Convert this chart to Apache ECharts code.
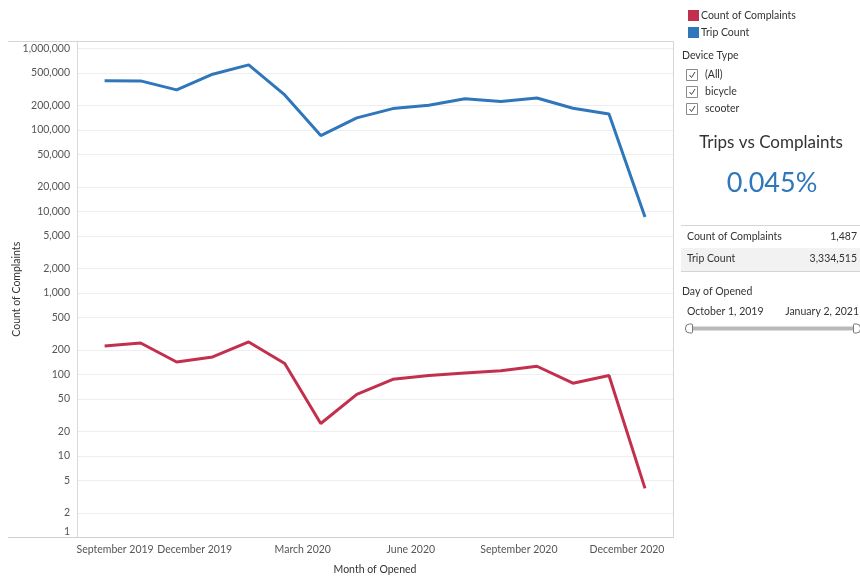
<!DOCTYPE html>
<html><head><meta charset="utf-8">
<script src="https://cdn.jsdelivr.net/npm/echarts@6/dist/echarts.min.js"></script>
<style>html,body{margin:0;padding:0;background:#fff}#c{width:860px;height:577px}</style>
</head><body><div id="c"></div>
<script>
// ---- data ----
const months = ['Oct 2019','Nov 2019','Dec 2019','Jan 2020','Feb 2020','Mar 2020','Apr 2020','May 2020','Jun 2020','Jul 2020','Aug 2020','Sep 2020','Oct 2020','Nov 2020','Dec 2020','Jan 2021'];
const complaints = [223,243,142,164,250,136,25,57,87,97,104,111,126,78,97,4];
const trips = [401000,398000,309000,481000,625000,268000,85000,140000,182000,200000,241000,222000,246000,184000,156000,8500];
const yTicks = [1,2,5,10,20,50,100,200,500,1000,2000,5000,10000,20000,50000,100000,200000,500000,1000000];
// x labels sit in the middle of their month (month index, 0 = Oct 2019)
const xTickValues = [-0.5,2.5,5.5,8.5,11.5,14.5];
const xTickLabels = ['September 2019','December 2019','March 2020','June 2020','September 2020','December 2020'];
const deviceTypes = ['(All)','bicycle','scooter'];
const summaryLabels = ['Count of Complaints','Trip Count'];
const summaryValues = [1487, 3334515];
const dateRange = ['October 1, 2019','January 2, 2021'];

const RED = '#c3304d', BLUE = '#2f76bb';
const FONT = 'Lato, "Open Sans", sans-serif';
const fmt = v => Number(v).toLocaleString('en-US');
const ratio = (summaryValues[0] / summaryValues[1] * 100).toFixed(3) + '%';

const chart = echarts.init(document.getElementById('c'), null, {renderer: 'canvas'});

const graphics = [];
// frame lines of the Tableau pane
graphics.push({type:'line', shape:{x1:8,y1:41.5,x2:673,y2:41.5}, style:{stroke:'#d6d6d6',lineWidth:1}, silent:true});
graphics.push({type:'line', shape:{x1:8,y1:537.5,x2:77,y2:537.5}, style:{stroke:'#cfcfcf',lineWidth:1}, silent:true});
graphics.push({type:'line', shape:{x1:673.5,y1:41,x2:673.5,y2:538}, style:{stroke:'#d6d6d6',lineWidth:1}, silent:true});
// Device Type filter
graphics.push({type:'text', x:682, y:56, style:{text:'Device Type', font:'10.5px '+FONT, fill:'#333', verticalAlign:'middle'}});
deviceTypes.forEach((d, i) => {
  const cy = 75 + i * 17;
  graphics.push({type:'rect', shape:{x:686.5, y:cy-5.5, width:11, height:11}, style:{fill:'#fff', stroke:'#8a8a8a', lineWidth:1}});
  graphics.push({type:'polyline', shape:{points:[[689.5,cy],[691.5,cy+2.5],[695,cy-3]]}, style:{stroke:'#444', lineWidth:1, fill:null}});
  graphics.push({type:'text', x:705, y:cy, style:{text:d, font:'10.5px '+FONT, fill:'#333', verticalAlign:'middle'}});
});
// KPI
graphics.push({type:'text', x:771, y:143, style:{text:'Trips vs Complaints', font:'17px '+FONT, fill:'#333', align:'center', verticalAlign:'middle'}});
graphics.push({type:'text', x:772, y:183, style:{text:ratio, font:'27px '+FONT, fill:BLUE, align:'center', verticalAlign:'middle'}});
// summary table
graphics.push({type:'rect', shape:{x:681, y:248, width:179, height:23}, style:{fill:'#f2f2f2'}});
graphics.push({type:'line', shape:{x1:681,y1:225.5,x2:860,y2:225.5}, style:{stroke:'#d4d4d4',lineWidth:1}});
graphics.push({type:'line', shape:{x1:681,y1:271.5,x2:860,y2:271.5}, style:{stroke:'#d4d4d4',lineWidth:1}});
summaryLabels.forEach((s, i) => {
  const cy = 236.5 + i * 22.5;
  graphics.push({type:'text', x:687, y:cy, style:{text:s, font:'10.5px '+FONT, fill:'#333', verticalAlign:'middle'}});
  graphics.push({type:'text', x:857, y:cy, style:{text:fmt(summaryValues[i]), font:'10.5px '+FONT, fill:'#333', align:'right', verticalAlign:'middle'}});
});
// date filter
graphics.push({type:'text', x:682, y:291.5, style:{text:'Day of Opened', font:'10.5px '+FONT, fill:'#333', verticalAlign:'middle'}});
graphics.push({type:'text', x:687, y:311.5, style:{text:dateRange[0], font:'10.5px '+FONT, fill:'#333', verticalAlign:'middle'}});
graphics.push({type:'text', x:859, y:311.5, style:{text:dateRange[1], font:'10.5px '+FONT, fill:'#333', align:'right', verticalAlign:'middle'}});
graphics.push({type:'rect', shape:{x:690, y:326.5, width:166, height:4}, style:{fill:'#b9b9b9'}});
graphics.push({type:'rect', shape:{x:685.5, y:324, width:7, height:9, r:[4,1,1,4]}, style:{fill:'#fff', stroke:'#777', lineWidth:1}});
graphics.push({type:'rect', shape:{x:853.5, y:324, width:7, height:9, r:[1,4,4,1]}, style:{fill:'#fff', stroke:'#777', lineWidth:1}});

chart.setOption({
  animation: false,
  backgroundColor: '#fff',
  textStyle: {fontFamily: FONT},
  legend: {
    orient: 'vertical', left: 683, top: 5, itemWidth: 11, itemHeight: 11, itemGap: 6,
    icon: 'rect', selectedMode: false,
    textStyle: {fontSize: 10.5, color: '#333', fontFamily: FONT, padding:[0,0,0,-3]},
    data: ['Count of Complaints', 'Trip Count']
  },
  grid: {left: 77, right: 187, top: 41, bottom: 39.5, containLabel: false, outerBoundsMode: 'none'},
  xAxis: {
    type: 'value', min: -0.766, max: 15.777,
    name: 'Month of Opened', nameLocation: 'middle', nameGap: 27, nameMoveOverlap: false,
    nameTextStyle: {fontSize: 10.5, color: '#333', fontFamily: FONT},
    axisLine: {show: true, onZero: false, lineStyle: {color: '#cfcfcf'}},
    axisTick: {show: false},
    splitLine: {show: false},
    axisLabel: {
      customValues: xTickValues, margin: 7, fontSize: 10.5, color: '#555', fontFamily: FONT,
      showMinLabel: true, showMaxLabel: true, hideOverlap: false,
      formatter: v => {
        const i = xTickValues.findIndex(t => Math.abs(t - v) < 1e-6);
        const t = i >= 0 ? xTickLabels[i] : '';
        return i === 0 ? '{first|' + t + '}' : t;
      },
      rich: {first: {padding: [0, 0, 0, 57], fontSize: 10.5, color: '#555', fontFamily: FONT}}
    }
  },
  yAxis: {
    type: 'log', logBase: 10, min: 1, max: 1228000,
    name: 'Count of Complaints', nameLocation: 'middle', nameGap: 55, nameRotate: 90, nameMoveOverlap: false,
    nameTextStyle: {fontSize: 10.5, color: '#333', fontFamily: FONT},
    axisLine: {show: true, onZero: false, lineStyle: {color: '#d9d9d9'}},
    axisTick: {show: false, customValues: yTicks},
    splitLine: {show: true, lineStyle: {color: '#eeeeee'}},
    axisLabel: {
      customValues: yTicks, margin: 7, fontSize: 10.5, color: '#555', fontFamily: FONT,
      verticalAlignMinLabel: 'bottom',
      formatter: v => fmt(v)
    }
  },
  series: [
    {name: 'Count of Complaints', type: 'line', showSymbol: false, symbol: 'none', color: RED,
     lineStyle: {width: 3, color: RED}, data: months.map((m, i) => [i, complaints[i]])},
    {name: 'Trip Count', type: 'line', showSymbol: false, symbol: 'none', color: BLUE,
     lineStyle: {width: 3, color: BLUE}, data: months.map((m, i) => [i, trips[i]])}
  ],
  graphic: graphics
});
</script></body></html>
